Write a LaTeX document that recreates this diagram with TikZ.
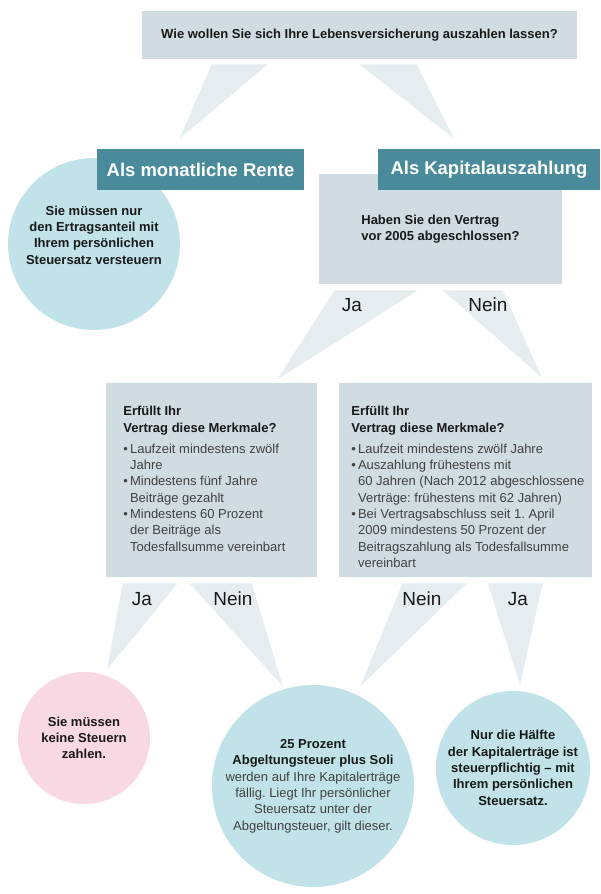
\documentclass[tikz,border=0pt]{standalone}
\usepackage{fontspec}
\setmainfont{Liberation Sans}
\usetikzlibrary{calc}
\frenchspacing

\definecolor{boxgrau}{RGB}{208,220,226}
\definecolor{keilgrau}{RGB}{230,237,240}
\definecolor{petrol}{RGB}{74,139,155}
\definecolor{hellblau}{RGB}{192,226,232}
\definecolor{rosa}{RGB}{248,216,226}
\definecolor{textdunkel}{RGB}{25,25,25}
\definecolor{textgrau}{RGB}{65,65,65}

\newcommand{\pkt}{\textbullet\,}
\newcommand{\ein}{\phantom{\textbullet\,}}
\newcommand{\titel}[1]{\textcolor{textdunkel}{\textbf{#1}}}
\newcommand{\normal}[1]{{\mdseries\color{textgrau}#1}}

\begin{document}
\begin{tikzpicture}[x=0.02cm, y=-0.02cm,
          every node/.style={align=center, inner sep=0pt, text=textdunkel, font=\fontsize{7.4}{9.3}\selectfont},
          frage/.style={fill=boxgrau, font=\fontsize{7.4}{9.3}\selectfont\bfseries},
          antwort/.style={fill=petrol, text=white, minimum height=0.82cm, font=\fontsize{10.5}{12}\selectfont\bfseries},
          merkmal/.style={fill=boxgrau, minimum height=3.88cm},
          liste/.style={align=left, anchor=north west, text=textgrau},
          kreis/.style={circle, fill=hellblau, font=\fontsize{7.4}{9.3}\selectfont\bfseries},
          kreistext/.style={font=\fontsize{7.4}{9.3}\selectfont\bfseries},
          keil/.style={fill=keilgrau},
          wahl/.style={font=\fontsize{10.8}{12}\selectfont}
        ]
        \useasboundingbox (0,0) rectangle (600,894);

        % Frage oben
        \node[frage, minimum width=8.7cm, minimum height=0.96cm] (frage) at (359.5,35) {Wie wollen Sie sich Ihre Lebensversicherung auszahlen lassen?};

        % Linker Zweig (Rente)
        \node[kreis, minimum size=3.44cm] (ertrag) at (94,244) {};
        \node[kreistext] (ertragtext) at (94,235) {Sie müssen nur\\den Ertragsanteil mit\\Ihrem persönlichen\\Steuersatz versteuern};
        \node[antwort, minimum width=4.14cm] (rente) at (200.5,169.5) {Als monatliche Rente};

        % Rechter Zweig (Kapital)
        \node[frage, minimum width=4.86cm, minimum height=2.2cm, align=left] (vertrag) at (440.5,229) {Haben Sie den Vertrag\\vor 2005 abgeschlossen?};
        \node[antwort, minimum width=4.44cm] (kapital) at (489,169.5) {Als Kapitalauszahlung};

        % Merkmale
        \node[merkmal, minimum width=4.22cm] (altvertrag) at (211.5,480) {};
        \node[liste] (alttext) at (123,406) {\titel{Erfüllt Ihr}\\\titel{Vertrag diese Merkmale?}\\[2.7pt]
          \pkt Laufzeit mindestens zwölf\\\ein Jahre\\
          \pkt Mindestens fünf Jahre\\\ein Beiträge gezahlt\\
          \pkt Mindestens 60 Prozent\\\ein der Beiträge als\\\ein Todesfallsumme vereinbart};
        \node[merkmal, minimum width=5.06cm] (neuvertrag) at (465.5,480) {};
        \node[liste] (neutext) at (351,406) {\titel{Erfüllt Ihr}\\\titel{Vertrag diese Merkmale?}\\[2.7pt]
          \pkt Laufzeit mindestens zwölf Jahre\\
          \pkt Auszahlung frühestens mit\\\ein 60 Jahren (Nach 2012 abgeschlossene\\\ein Verträge: frühestens mit 62 Jahren)\\
          \pkt Bei Vertragsabschluss seit 1. April\\\ein 2009 mindestens 50 Prozent der\\\ein Beitragszahlung als Todesfallsumme\\\ein vereinbart};

        % Ergebnisse
        \node[kreis, fill=rosa, minimum size=2.64cm] (steuerfrei) at (84,738) {Sie müssen\\keine Steuern\\zahlen.};
        \node[kreis, minimum size=4.04cm] (abgeltung) at (313,786) {25 Prozent\\Abgeltungsteuer plus Soli\\\normal{werden auf Ihre Kapitalerträge}\\\normal{fällig. Liegt Ihr persönlicher}\\\normal{Steuersatz unter der}\\\normal{Abgeltungsteuer, gilt dieser.}};
        \node[kreis, minimum size=3.08cm] (haelfte) at (513,768) {Nur die Hälfte\\der Kapitalerträge ist\\steuerpflichtig -- mit\\Ihrem persönlichen\\Steuersatz.};

        % Keile
        \fill[keil] ($(frage.south west)+(70,5)$) -- ($(frage.south west)+(126,5)$) -- ($(rente.north)+(-21,-10)$) -- cycle;
        \fill[keil] ($(frage.south west)+(218,5)$) -- ($(frage.south west)+(275,5)$) -- ($(kapital.north)+(-35,-10)$) -- cycle;
        \fill[keil] ($(vertrag.south west)+(16,6)$) -- ($(vertrag.south west)+(99,6)$) -- ($(altvertrag.north)+(65.5,-3)$) -- cycle;
        \fill[keil] ($(vertrag.south west)+(124,6)$) -- ($(vertrag.south west)+(184,6)$) -- ($(neuvertrag.north)+(76.5,-5)$) -- cycle;
        \fill[keil] ($(altvertrag.south west)+(17,6)$) -- ($(altvertrag.south west)+(72,6)$) -- ($(steuerfrei.north)+(23,-2)$) -- cycle;
        \fill[keil] ($(altvertrag.south west)+(84,6)$) -- ($(altvertrag.south west)+(146,6)$) -- ($(abgeltung.north)+(-30,2)$) -- cycle;
        \fill[keil] ($(neuvertrag.south west)+(64,6)$) -- ($(neuvertrag.south west)+(128,6)$) -- ($(abgeltung.north)+(47,2)$) -- cycle;
        \fill[keil] ($(neuvertrag.south west)+(149,6)$) -- ($(neuvertrag.south west)+(204,6)$) -- ($(haelfte.north)+(7,-6)$) -- cycle;

        % Ja / Nein
        \node[wahl] (ja1) at (352,305) {Ja};
        \node[wahl] (nein1) at (488,305) {Nein};
        \node[wahl] (ja2) at (142,599) {Ja};
        \node[wahl] (nein2) at (233,599) {Nein};
        \node[wahl] (nein3) at (422,599) {Nein};
        \node[wahl] (ja3) at (518,599) {Ja};

      \end{tikzpicture}
\end{document}
